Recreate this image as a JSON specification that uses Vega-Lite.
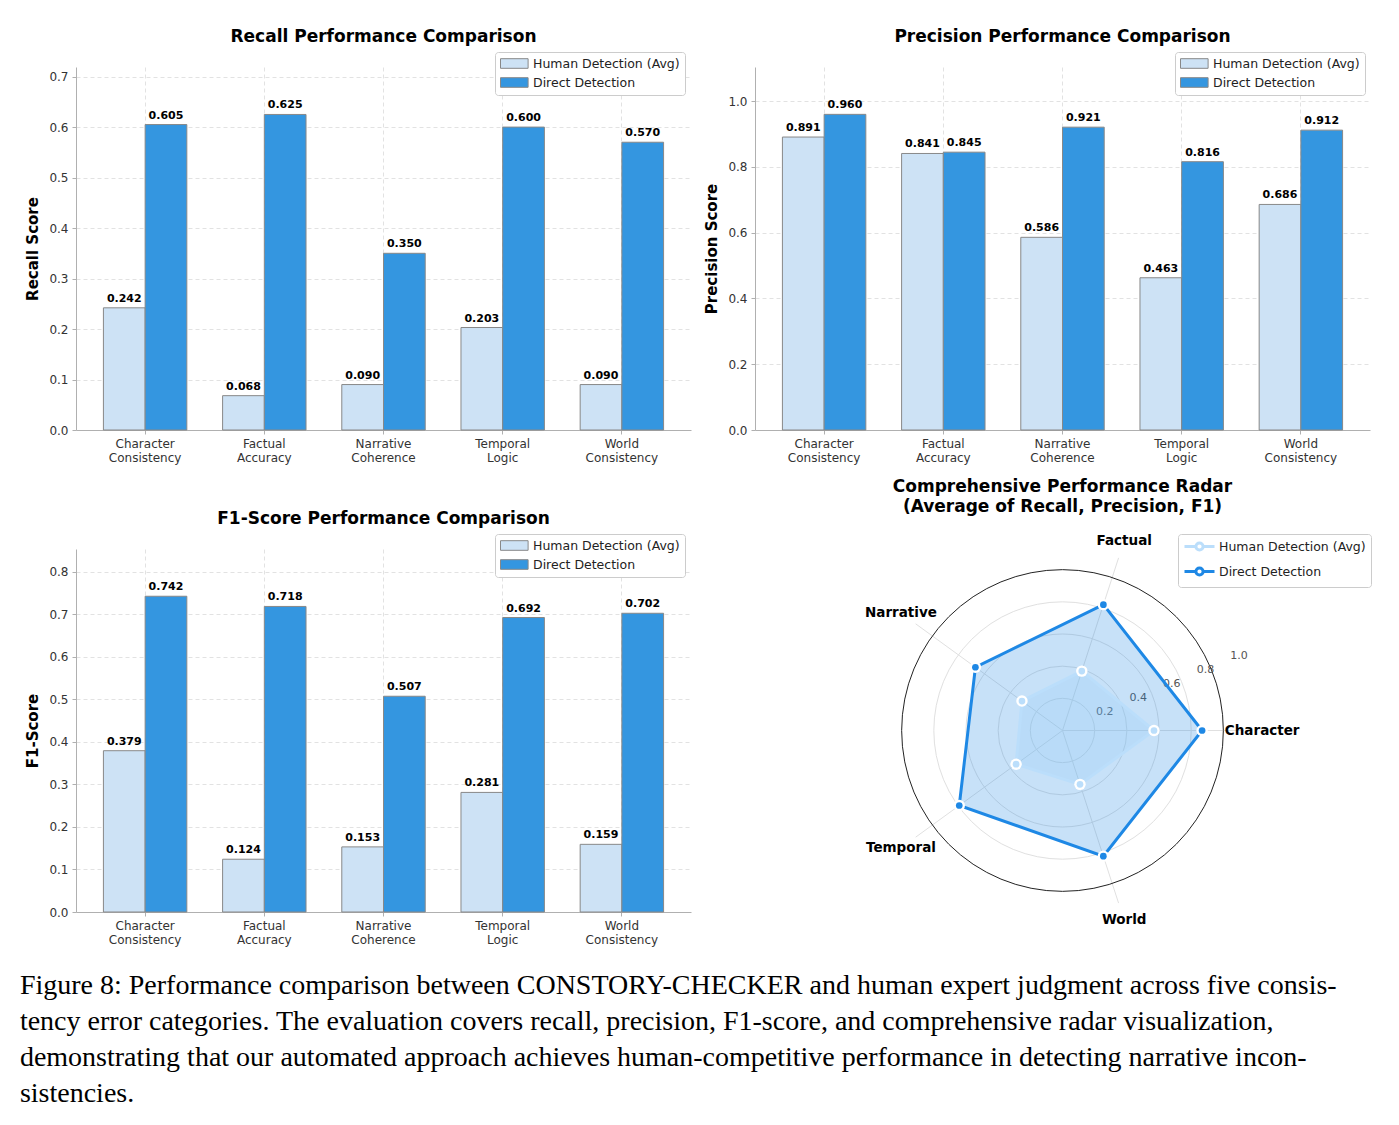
{
  "$schema": "https://vega.github.io/schema/vega-lite/v6.json",
  "background": "white",
  "padding": {"left": 19, "top": 27, "right": 10, "bottom": 5},
  "title": {
    "text": [
      "Figure 8: Performance comparison between CONSTORY-CHECKER and human expert judgment across five consis-",
      "tency error categories. The evaluation covers recall, precision, F1-score, and comprehensive radar visualization,",
      "demonstrating that our automated approach achieves human-competitive performance in detecting narrative incon-",
      "sistencies."
    ],
    "orient": "bottom", "anchor": "start", "frame": "bounds",
    "font": "Liberation Serif", "fontSize": 28, "fontWeight": "normal", "lineHeight": 36,
    "color": "#000", "offset": 27, "dx": -6
  },
  "datasets": {
    "bars": [
      {"metric": "Recall", "category": "Character Consistency", "method": "Human Detection (Avg)", "value": 0.242},
      {"metric": "Recall", "category": "Factual Accuracy", "method": "Human Detection (Avg)", "value": 0.068},
      {"metric": "Recall", "category": "Narrative Coherence", "method": "Human Detection (Avg)", "value": 0.090},
      {"metric": "Recall", "category": "Temporal Logic", "method": "Human Detection (Avg)", "value": 0.203},
      {"metric": "Recall", "category": "World Consistency", "method": "Human Detection (Avg)", "value": 0.090},
      {"metric": "Recall", "category": "Character Consistency", "method": "Direct Detection", "value": 0.605},
      {"metric": "Recall", "category": "Factual Accuracy", "method": "Direct Detection", "value": 0.625},
      {"metric": "Recall", "category": "Narrative Coherence", "method": "Direct Detection", "value": 0.350},
      {"metric": "Recall", "category": "Temporal Logic", "method": "Direct Detection", "value": 0.600},
      {"metric": "Recall", "category": "World Consistency", "method": "Direct Detection", "value": 0.570},
      {"metric": "Precision", "category": "Character Consistency", "method": "Human Detection (Avg)", "value": 0.891},
      {"metric": "Precision", "category": "Factual Accuracy", "method": "Human Detection (Avg)", "value": 0.841},
      {"metric": "Precision", "category": "Narrative Coherence", "method": "Human Detection (Avg)", "value": 0.586},
      {"metric": "Precision", "category": "Temporal Logic", "method": "Human Detection (Avg)", "value": 0.463},
      {"metric": "Precision", "category": "World Consistency", "method": "Human Detection (Avg)", "value": 0.686},
      {"metric": "Precision", "category": "Character Consistency", "method": "Direct Detection", "value": 0.960},
      {"metric": "Precision", "category": "Factual Accuracy", "method": "Direct Detection", "value": 0.845},
      {"metric": "Precision", "category": "Narrative Coherence", "method": "Direct Detection", "value": 0.921},
      {"metric": "Precision", "category": "Temporal Logic", "method": "Direct Detection", "value": 0.816},
      {"metric": "Precision", "category": "World Consistency", "method": "Direct Detection", "value": 0.912},
      {"metric": "F1", "category": "Character Consistency", "method": "Human Detection (Avg)", "value": 0.379},
      {"metric": "F1", "category": "Factual Accuracy", "method": "Human Detection (Avg)", "value": 0.124},
      {"metric": "F1", "category": "Narrative Coherence", "method": "Human Detection (Avg)", "value": 0.153},
      {"metric": "F1", "category": "Temporal Logic", "method": "Human Detection (Avg)", "value": 0.281},
      {"metric": "F1", "category": "World Consistency", "method": "Human Detection (Avg)", "value": 0.159},
      {"metric": "F1", "category": "Character Consistency", "method": "Direct Detection", "value": 0.742},
      {"metric": "F1", "category": "Factual Accuracy", "method": "Direct Detection", "value": 0.718},
      {"metric": "F1", "category": "Narrative Coherence", "method": "Direct Detection", "value": 0.507},
      {"metric": "F1", "category": "Temporal Logic", "method": "Direct Detection", "value": 0.692},
      {"metric": "F1", "category": "World Consistency", "method": "Direct Detection", "value": 0.702}
    ],
    "radar": [
      {"series": "Human Detection (Avg)", "cat": "Character", "idx": 0, "value": 0.504},
      {"series": "Human Detection (Avg)", "cat": "Factual", "idx": 1, "value": 0.344},
      {"series": "Human Detection (Avg)", "cat": "Narrative", "idx": 2, "value": 0.276},
      {"series": "Human Detection (Avg)", "cat": "Temporal", "idx": 3, "value": 0.316},
      {"series": "Human Detection (Avg)", "cat": "World", "idx": 4, "value": 0.312},
      {"series": "Direct Detection", "cat": "Character", "idx": 0, "value": 0.769},
      {"series": "Direct Detection", "cat": "Factual", "idx": 1, "value": 0.729},
      {"series": "Direct Detection", "cat": "Narrative", "idx": 2, "value": 0.593},
      {"series": "Direct Detection", "cat": "Temporal", "idx": 3, "value": 0.703},
      {"series": "Direct Detection", "cat": "World", "idx": 4, "value": 0.728}
    ],
    "cats": [
      {"cat": "Character", "idx": 0},
      {"cat": "Factual", "idx": 1},
      {"cat": "Narrative", "idx": 2},
      {"cat": "Temporal", "idx": 3},
      {"cat": "World", "idx": 4}
    ],
    "levels": [
      {"level": 0.2, "label": "0.2"},
      {"level": 0.4, "label": "0.4"},
      {"level": 0.6, "label": "0.6"},
      {"level": 0.8, "label": "0.8"},
      {"level": 1.0, "label": "1.0"}
    ]
  },
  "config": {
    "view": {"stroke": null},
    "font": "DejaVu Sans",
    "title": {"font": "DejaVu Sans", "fontSize": 17, "fontWeight": "bold", "color": "#000", "anchor": "middle"},
    "axis": {
      "domainColor": "#b0b0b0", "tickColor": "#b0b0b0", "tickSize": 4,
      "labelColor": "#333", "labelFont": "DejaVu Sans", "labelFontSize": 12, "labelPadding": 4,
      "titleFont": "DejaVu Sans", "titleFontSize": 15, "titleFontWeight": "bold", "titleColor": "#000", "titlePadding": 8,
      "gridColor": "#e2e2e2", "gridDash": [4, 3], "gridWidth": 1
    },
    "legend": {
      "labelFont": "DejaVu Sans", "labelFontSize": 12.5, "labelColor": "#222",
      "strokeColor": "#cccccc", "fillColor": "white", "padding": 5, "rowPadding": 4, "cornerRadius": 3, "labelOffset": 20
    }
  },
  "resolve": {"scale": {"color": "independent"}, "legend": {"color": "independent"}},
  "spacing": 14,
  "vconcat": [
    {
      "hconcat": [
        {
          "width": 615, "height": 363,
          "title": {"text": "Recall Performance Comparison", "frame": "group", "offset": 6},
          "data": {"name": "bars"},
          "transform": [{"filter": "datum.metric === 'Recall'"}],
          "encoding": {
            "x": {"field": "category", "type": "nominal",
              "sort": ["Character Consistency", "Factual Accuracy", "Narrative Coherence", "Temporal Logic", "World Consistency"],
              "scale": {"paddingInner": 0.3, "paddingOuter": 0.23},
              "axis": {"title": null, "labelAngle": 0, "labelExpr": "split(datum.label, ' ')", "grid": true, "bandPosition": 0.5, "labelLineHeight": 14}},
            "xOffset": {"field": "method", "type": "nominal", "sort": ["Human Detection (Avg)", "Direct Detection"]},
            "y": {"field": "value", "type": "quantitative", "scale": {"domain": [0, 0.719], "nice": false},
              "axis": {"title": "Recall Score", "values": [0, 0.1, 0.2, 0.3, 0.4, 0.5, 0.6, 0.7], "format": ".1f", "grid": true}}
          },
          "layer": [
            {"mark": {"type": "bar", "stroke": "#888888", "strokeWidth": 1},
             "encoding": {"color": {"field": "method", "type": "nominal",
               "scale": {"domain": ["Human Detection (Avg)", "Direct Detection"], "range": ["#CDE2F5", "#3496E0"]},
               "legend": {"title": null, "orient": "none", "legendX": 419, "legendY": -15,
                 "symbolType": "M-1,-0.8L3.6,-0.8L3.6,0.8L-1,0.8Z", "symbolSize": 144, "symbolStrokeColor": "#888888", "symbolStrokeWidth": 1}}}},
            {"mark": {"type": "text", "baseline": "bottom", "dy": -4, "fontWeight": "bold", "fontSize": 11, "color": "#000"},
             "encoding": {"text": {"field": "value", "type": "quantitative", "format": ".3f"}}}
          ]
        },
        {
          "width": 615, "height": 363,
          "title": {"text": "Precision Performance Comparison", "frame": "group", "offset": 6},
          "data": {"name": "bars"},
          "transform": [{"filter": "datum.metric === 'Precision'"}],
          "encoding": {
            "x": {"field": "category", "type": "nominal",
              "sort": ["Character Consistency", "Factual Accuracy", "Narrative Coherence", "Temporal Logic", "World Consistency"],
              "scale": {"paddingInner": 0.3, "paddingOuter": 0.23},
              "axis": {"title": null, "labelAngle": 0, "labelExpr": "split(datum.label, ' ')", "grid": true, "bandPosition": 0.5, "labelLineHeight": 14}},
            "xOffset": {"field": "method", "type": "nominal", "sort": ["Human Detection (Avg)", "Direct Detection"]},
            "y": {"field": "value", "type": "quantitative", "scale": {"domain": [0, 1.104], "nice": false},
              "axis": {"title": "Precision Score", "values": [0, 0.2, 0.4, 0.6, 0.8, 1.0], "format": ".1f", "grid": true}}
          },
          "layer": [
            {"mark": {"type": "bar", "stroke": "#888888", "strokeWidth": 1},
             "encoding": {"color": {"field": "method", "type": "nominal",
               "scale": {"domain": ["Human Detection (Avg)", "Direct Detection"], "range": ["#CDE2F5", "#3496E0"]},
               "legend": {"title": null, "orient": "none", "legendX": 420, "legendY": -15,
                 "symbolType": "M-1,-0.8L3.6,-0.8L3.6,0.8L-1,0.8Z", "symbolSize": 144, "symbolStrokeColor": "#888888", "symbolStrokeWidth": 1}}}},
            {"mark": {"type": "text", "baseline": "bottom", "dy": -4, "fontWeight": "bold", "fontSize": 11, "color": "#000"},
             "encoding": {"text": {"field": "value", "type": "quantitative", "format": ".3f"}}}
          ]
        }
      ],
      "spacing": 64,
      "bounds": "flush",
      "resolve": {"scale": {"color": "independent"}, "legend": {"color": "independent"}}
    },
    {
      "hconcat": [
        {
          "width": 615, "height": 363,
          "title": {"text": "F1-Score Performance Comparison", "frame": "group", "offset": 6},
          "data": {"name": "bars"},
          "transform": [{"filter": "datum.metric === 'F1'"}],
          "encoding": {
            "x": {"field": "category", "type": "nominal",
              "sort": ["Character Consistency", "Factual Accuracy", "Narrative Coherence", "Temporal Logic", "World Consistency"],
              "scale": {"paddingInner": 0.3, "paddingOuter": 0.23},
              "axis": {"title": null, "labelAngle": 0, "labelExpr": "split(datum.label, ' ')", "grid": true, "bandPosition": 0.5, "labelLineHeight": 14}},
            "xOffset": {"field": "method", "type": "nominal", "sort": ["Human Detection (Avg)", "Direct Detection"]},
            "y": {"field": "value", "type": "quantitative", "scale": {"domain": [0, 0.853], "nice": false},
              "axis": {"title": "F1-Score", "values": [0, 0.1, 0.2, 0.3, 0.4, 0.5, 0.6, 0.7, 0.8], "format": ".1f", "grid": true}}
          },
          "layer": [
            {"mark": {"type": "bar", "stroke": "#888888", "strokeWidth": 1},
             "encoding": {"color": {"field": "method", "type": "nominal",
               "scale": {"domain": ["Human Detection (Avg)", "Direct Detection"], "range": ["#CDE2F5", "#3496E0"]},
               "legend": {"title": null, "orient": "none", "legendX": 419, "legendY": -15,
                 "symbolType": "M-1,-0.8L3.6,-0.8L3.6,0.8L-1,0.8Z", "symbolSize": 144, "symbolStrokeColor": "#888888", "symbolStrokeWidth": 1}}}},
            {"mark": {"type": "text", "baseline": "bottom", "dy": -4, "fontWeight": "bold", "fontSize": 11, "color": "#000"},
             "encoding": {"text": {"field": "value", "type": "quantitative", "format": ".3f"}}}
          ]
        },
        {
          "width": 615, "height": 363,
          "title": {"text": ["Comprehensive Performance Radar", "(Average of Recall, Precision, F1)"], "frame": "group", "offset": 18, "lineHeight": 20},
          "layer": [
            {
              "data": {"name": "levels"},
              "transform": [{"filter": "datum.level < 1"}, {"calculate": "0", "as": "ox"}],
              "mark": {"type": "point", "shape": "circle", "filled": false, "strokeWidth": 1, "opacity": 1, "stroke": "#e0e0e0"},
              "encoding": {
                "x": {"field": "ox", "type": "quantitative", "scale": {"domain": [-1.694, 1.694], "nice": false, "zero": false}, "axis": null},
                "y": {"field": "ox", "type": "quantitative", "scale": {"domain": [-1, 1], "nice": false, "zero": false}, "axis": null},
                "size": {"field": "level", "type": "quantitative", "scale": {"type": "pow", "exponent": 2, "domain": [0, 1], "range": [0, 103490]}, "legend": null}
              }
            },
            {
              "data": {"name": "cats"},
              "transform": [
                {"calculate": "datum.idx * 2 * PI / 5", "as": "angle"},
                {"calculate": "cos(datum.angle)", "as": "cx"},
                {"calculate": "sin(datum.angle)", "as": "cy"},
                {"calculate": "0", "as": "ox"}
              ],
              "mark": {"type": "rule", "stroke": "#e0e0e0", "strokeWidth": 1},
              "encoding": {
                "x": {"field": "ox", "type": "quantitative", "scale": {"domain": [-1.694, 1.694], "nice": false, "zero": false}, "axis": null},
                "y": {"field": "ox", "type": "quantitative", "scale": {"domain": [-1, 1], "nice": false, "zero": false}, "axis": null},
                "x2": {"field": "cx"},
                "y2": {"field": "cy"}
              }
            },
            {
              "data": {"name": "levels"},
              "transform": [{"filter": "datum.level >= 1"}, {"calculate": "0", "as": "ox"}],
              "mark": {"type": "point", "shape": "circle", "filled": false, "strokeWidth": 1, "opacity": 1, "stroke": "#222222"},
              "encoding": {
                "x": {"field": "ox", "type": "quantitative", "scale": {"domain": [-1.694, 1.694], "nice": false, "zero": false}, "axis": null},
                "y": {"field": "ox", "type": "quantitative", "scale": {"domain": [-1, 1], "nice": false, "zero": false}, "axis": null},
                "size": {"field": "level", "type": "quantitative", "scale": {"type": "pow", "exponent": 2, "domain": [0, 1], "range": [0, 103490]}, "legend": null}
              }
            },
            {
              "data": {"name": "levels"},
              "transform": [
                {"calculate": "datum.level * cos(PI / 8)", "as": "rx"},
                {"calculate": "datum.level * sin(PI / 8)", "as": "ry"}
              ],
              "mark": {"type": "text", "align": "left", "baseline": "bottom", "fontSize": 11, "color": "#555"},
              "encoding": {
                "x": {"field": "rx", "type": "quantitative", "scale": {"domain": [-1.694, 1.694], "nice": false, "zero": false}, "axis": null},
                "y": {"field": "ry", "type": "quantitative", "scale": {"domain": [-1, 1], "nice": false, "zero": false}, "axis": null},
                "text": {"field": "label"}
              }
            },
            {
              "data": {"name": "radar"},
              "transform": [
                {"filter": "datum.series === 'Direct Detection'"},
                {"calculate": "datum.idx * 2 * PI / 5", "as": "angle"},
                {"calculate": "datum.value * cos(datum.angle)", "as": "px"},
                {"calculate": "datum.value * sin(datum.angle)", "as": "py"}
              ],
              "mark": {"type": "line", "interpolate": "linear-closed", "fill": "#1E88E5", "fillOpacity": 0.25, "strokeOpacity": 0},
              "encoding": {
                "x": {"field": "px", "type": "quantitative", "scale": {"domain": [-1.694, 1.694], "nice": false, "zero": false}, "axis": null},
                "y": {"field": "py", "type": "quantitative", "scale": {"domain": [-1, 1], "nice": false, "zero": false}, "axis": null},
                "order": {"field": "idx", "type": "quantitative"}
              }
            },
            {
              "data": {"name": "radar"},
              "transform": [
                {"filter": "datum.series === 'Human Detection (Avg)'"},
                {"calculate": "datum.idx * 2 * PI / 5", "as": "angle"},
                {"calculate": "datum.value * cos(datum.angle)", "as": "px"},
                {"calculate": "datum.value * sin(datum.angle)", "as": "py"}
              ],
              "mark": {"type": "line", "interpolate": "linear-closed", "fill": "#90CAF9", "fillOpacity": 0.25, "strokeOpacity": 0},
              "encoding": {
                "x": {"field": "px", "type": "quantitative", "scale": {"domain": [-1.694, 1.694], "nice": false, "zero": false}, "axis": null},
                "y": {"field": "py", "type": "quantitative", "scale": {"domain": [-1, 1], "nice": false, "zero": false}, "axis": null},
                "order": {"field": "idx", "type": "quantitative"}
              }
            },
            {
              "data": {"name": "radar"},
              "transform": [
                {"calculate": "datum.idx * 2 * PI / 5", "as": "angle"},
                {"calculate": "datum.value * cos(datum.angle)", "as": "px"},
                {"calculate": "datum.value * sin(datum.angle)", "as": "py"}
              ],
              "mark": {"type": "line", "interpolate": "linear-closed", "strokeWidth": 3},
              "encoding": {
                "x": {"field": "px", "type": "quantitative", "scale": {"domain": [-1.694, 1.694], "nice": false, "zero": false}, "axis": null},
                "y": {"field": "py", "type": "quantitative", "scale": {"domain": [-1, 1], "nice": false, "zero": false}, "axis": null},
                "order": {"field": "idx", "type": "quantitative"},
                "color": {"field": "series", "type": "nominal",
                  "scale": {"domain": ["Human Detection (Avg)", "Direct Detection"], "range": ["#BBDEFB", "#1E88E5"]},
                  "legend": {"title": null, "orient": "none", "legendX": 423, "legendY": -15,
                    "symbolType": "M-1,0L0.9,0M2.1,0L4,0M2.1,0A0.6,0.6,0,1,1,0.9,0A0.6,0.6,0,1,1,2.1,0",
                    "symbolSize": 144, "symbolStrokeWidth": 3, "labelOffset": 21}}
              }
            },
            {
              "data": {"name": "radar"},
              "transform": [
                {"calculate": "datum.idx * 2 * PI / 5", "as": "angle"},
                {"calculate": "datum.value * cos(datum.angle)", "as": "px"},
                {"calculate": "datum.value * sin(datum.angle)", "as": "py"}
              ],
              "mark": {"type": "point", "filled": true, "shape": "circle", "size": 130, "color": "white", "opacity": 1},
              "encoding": {
                "x": {"field": "px", "type": "quantitative", "scale": {"domain": [-1.694, 1.694], "nice": false, "zero": false}, "axis": null},
                "y": {"field": "py", "type": "quantitative", "scale": {"domain": [-1, 1], "nice": false, "zero": false}, "axis": null}
              }
            },
            {
              "data": {"name": "radar"},
              "transform": [
                {"filter": "datum.series === 'Human Detection (Avg)'"},
                {"calculate": "datum.idx * 2 * PI / 5", "as": "angle"},
                {"calculate": "datum.value * cos(datum.angle)", "as": "px"},
                {"calculate": "datum.value * sin(datum.angle)", "as": "py"}
              ],
              "mark": {"type": "point", "filled": true, "shape": "circle", "size": 45, "opacity": 1, "color": "#BBDEFB"},
              "encoding": {
                "x": {"field": "px", "type": "quantitative", "scale": {"domain": [-1.694, 1.694], "nice": false, "zero": false}, "axis": null},
                "y": {"field": "py", "type": "quantitative", "scale": {"domain": [-1, 1], "nice": false, "zero": false}, "axis": null}
              }
            },
            {
              "data": {"name": "radar"},
              "transform": [
                {"filter": "datum.series === 'Direct Detection'"},
                {"calculate": "datum.idx * 2 * PI / 5", "as": "angle"},
                {"calculate": "datum.value * cos(datum.angle)", "as": "px"},
                {"calculate": "datum.value * sin(datum.angle)", "as": "py"}
              ],
              "mark": {"type": "point", "filled": true, "shape": "circle", "size": 45, "opacity": 1, "color": "#1E88E5"},
              "encoding": {
                "x": {"field": "px", "type": "quantitative", "scale": {"domain": [-1.694, 1.694], "nice": false, "zero": false}, "axis": null},
                "y": {"field": "py", "type": "quantitative", "scale": {"domain": [-1, 1], "nice": false, "zero": false}, "axis": null}
              }
            },
            {
              "data": {"name": "cats"},
              "transform": [
                {"calculate": "datum.idx * 2 * PI / 5", "as": "angle"},
                {"calculate": "1.1 * cos(datum.angle)", "as": "lx"},
                {"calculate": "1.1 * sin(datum.angle)", "as": "ly"}
              ],
              "mark": {"type": "text", "align": "center", "baseline": "middle", "fontSize": 13.5, "fontWeight": "bold", "color": "#000"},
              "encoding": {
                "x": {"field": "lx", "type": "quantitative", "scale": {"domain": [-1.694, 1.694], "nice": false, "zero": false}, "axis": null},
                "y": {"field": "ly", "type": "quantitative", "scale": {"domain": [-1, 1], "nice": false, "zero": false}, "axis": null},
                "text": {"field": "cat"}
              }
            }
          ]
        }
      ],
      "spacing": 64,
      "bounds": "flush",
      "resolve": {"scale": {"color": "independent"}, "legend": {"color": "independent"}}
    }
  ]
}
